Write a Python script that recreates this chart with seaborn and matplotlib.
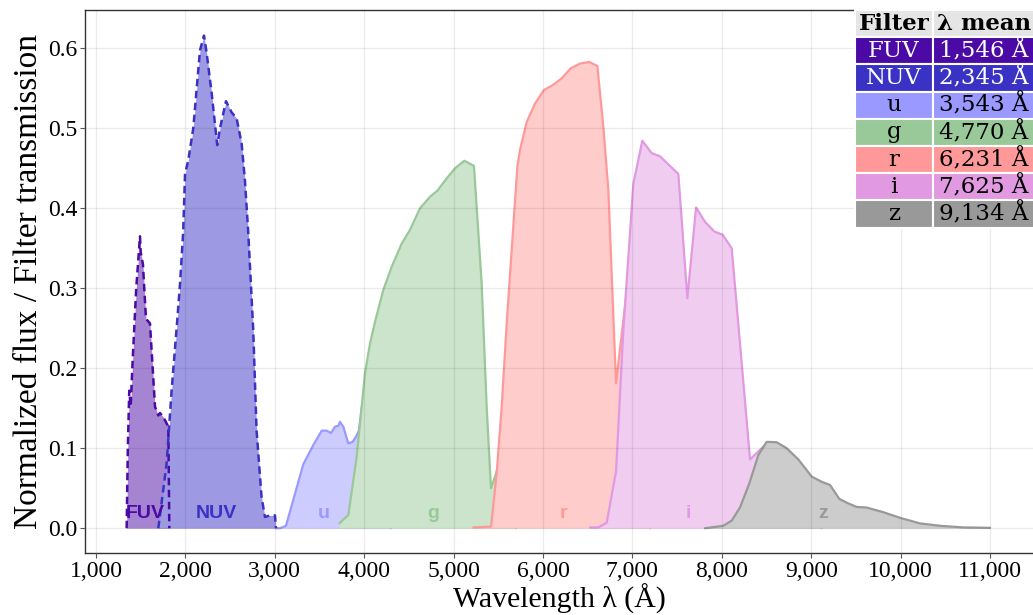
import matplotlib
matplotlib.use("Agg")
import matplotlib.pyplot as plt
import matplotlib.colors as mcolors
from matplotlib.ticker import FuncFormatter, MultipleLocator
import seaborn as sns

# --- filter transmission / normalized flux curves (wavelength in Å) ---
fuv_wave = [1343, 1356, 1372, 1388, 1410, 1450, 1492, 1500, 1525, 1559, 1604,
            1660, 1697, 1716, 1753, 1809, 1820]
fuv_flux = [0.0, 0.10, 0.172, 0.152, 0.21, 0.30, 0.365, 0.345, 0.33, 0.262, 0.256,
            0.152, 0.141, 0.144, 0.139, 0.127, 0.0]

nuv_wave = [1697, 1790, 1846, 1909, 1940, 1975, 1996, 2032, 2088, 2163, 2208, 2238,
            2294, 2356, 2387, 2454, 2517, 2573, 2629, 2666, 2703, 2759, 2796, 2852,
            2890, 2946, 3002, 3013]
nuv_flux = [0.0, 0.081, 0.1725, 0.26, 0.306, 0.37, 0.443, 0.46, 0.50, 0.5975, 0.616,
            0.594, 0.544, 0.479, 0.50, 0.534, 0.52, 0.5125, 0.481, 0.435, 0.37, 0.2475,
            0.1225, 0.039, 0.014, 0.016, 0.016, 0.0]

u_wave = [3013, 3058, 3125, 3319, 3431, 3525, 3581, 3629, 3674, 3711, 3729, 3766,
          3822, 3871, 3916, 3942, 3972, 4020, 4100, 4200, 4300]
u_flux = [0.0, 0.0, 0.003, 0.08, 0.104, 0.122, 0.122, 0.119, 0.127, 0.128, 0.133,
          0.127, 0.106, 0.108, 0.116, 0.1225, 0.15, 0.18, 0.14, 0.05, 0.0]

g_wave = [3722, 3823, 3916, 4009, 4065, 4121, 4214, 4308, 4420, 4512, 4624, 4736,
          4818, 4923, 5016, 5120, 5228, 5314, 5370, 5418, 5463, 5519, 5600, 5700]
g_flux = [0.006, 0.0166, 0.0895, 0.194, 0.231, 0.258, 0.298, 0.327, 0.356, 0.373,
          0.40, 0.4145, 0.422, 0.4375, 0.45, 0.4595, 0.453, 0.306, 0.152, 0.05,
          0.0645, 0.085, 0.04, 0.0]

r_wave = [5221, 5419, 5482, 5538, 5594, 5650, 5713, 5743, 5818, 5911, 6011, 6109,
          6209, 6310, 6414, 6518, 6608, 6675, 6731, 6817, 6930, 7000, 7100, 7200]
r_flux = [0.001, 0.002, 0.069, 0.152, 0.256, 0.348, 0.452, 0.473, 0.508, 0.531,
          0.548, 0.554, 0.5625, 0.575, 0.581, 0.583, 0.578, 0.502, 0.423, 0.181,
          0.29, 0.20, 0.05, 0.0]

i_wave = [6526, 6619, 6713, 6817, 6899, 7011, 7111, 7216, 7309, 7402, 7514, 7615,
          7712, 7813, 7916, 8010, 8111, 8316, 8502, 8614, 8726, 8856, 9006, 9118]
i_flux = [0.001, 0.001, 0.007, 0.071, 0.248, 0.431, 0.4845, 0.469, 0.465, 0.455,
          0.443, 0.2875, 0.401, 0.383, 0.371, 0.367, 0.35, 0.086, 0.106, 0.08, 0.05,
          0.025, 0.01, 0.0]

z_wave = [7812, 8017, 8111, 8204, 8308, 8409, 8502, 8614, 8726, 8856, 9006, 9118,
          9211, 9315, 9415, 9509, 9621, 9807, 9993, 10217, 10441, 10702, 11000]
z_flux = [0.0, 0.003, 0.0095, 0.026, 0.056, 0.0915, 0.108, 0.1075, 0.10, 0.086,
          0.0645, 0.058, 0.054, 0.0366, 0.031, 0.0266, 0.0258, 0.02, 0.013, 0.006,
          0.003, 0.001, 0.0005]

filters = ["FUV", "NUV", "u", "g", "r", "i", "z"]
mean_wavelength = [1546, 2345, 3543, 4770, 6231, 7625, 9134]

x_ticks = [1000, 2000, 3000, 4000, 5000, 6000, 7000, 8000, 9000, 10000, 11000]

# --- styling ---
line_colors = ["#4B0AA5", "#3A32C4", "#9999FF", "#99C899", "#FF9999", "#E199E1", "#999999"]
dashed = [True, True, False, False, False, False, False]
text_white = [True, True, False, False, False, False, False]

curves = [(fuv_wave, fuv_flux), (nuv_wave, nuv_flux), (u_wave, u_flux),
          (g_wave, g_flux), (r_wave, r_flux), (i_wave, i_flux), (z_wave, z_flux)]


def half_tint(color):
    r, g, b = mcolors.to_rgb(color)
    return (0.5 + 0.5 * r, 0.5 + 0.5 * g, 0.5 + 0.5 * b)


sns.set_style("white")
plt.rcParams["font.family"] = ["Liberation Serif", "DejaVu Serif"]
plt.rcParams["text.color"] = "black"
plt.rcParams["axes.labelcolor"] = "black"

fig = plt.figure(figsize=(10.33, 6.15), dpi=100)
ax = fig.add_axes([85 / 1033, 62 / 615, 948 / 1033, 543 / 615])

for k, (name, (wave, flux)) in enumerate(zip(filters, curves)):
    base = 1.0 + 0.1 * k
    ax.fill_between(wave, flux, 0, color=half_tint(line_colors[k]), lw=0, zorder=base)
    if dashed[k]:
        sns.lineplot(x=wave, y=flux, ax=ax, color=line_colors[k], lw=1.8,
                     linestyle=(0, (3.0, 1.8)), estimator=None, sort=False, zorder=2.2)
    else:
        sns.lineplot(x=wave, y=flux, ax=ax, color=line_colors[k], lw=1.6,
                     estimator=None, sort=False, zorder=base + 0.05)
    ax.text(mean_wavelength[k], 0.019, name, color=line_colors[k], ha="center",
            va="center", fontsize=14, fontweight="bold", family="Liberation Sans",
            zorder=4)

ax.set_xlim(877, 11481)
ax.set_ylim(-0.031, 0.648)
ax.set_xticks(x_ticks)
ax.xaxis.set_major_formatter(FuncFormatter(lambda v, p: f"{int(v):,}"))
ax.yaxis.set_major_locator(MultipleLocator(0.1))
ax.yaxis.set_major_formatter(FuncFormatter(lambda v, p: f"{v:.1f}"))

ax.grid(True, color="black", alpha=0.08, lw=0.9)
ax.set_axisbelow(False)

for side in ["left", "bottom", "top"]:
    ax.spines[side].set_color("#333333")
    ax.spines[side].set_linewidth(1.0)
    ax.spines[side].set_visible(True)
ax.spines["right"].set_visible(False)

ax.tick_params(axis="both", labelsize=17, length=3.5, width=0.8, color="#555555",
               labelcolor="black", pad=2, direction="out")
ax.tick_params(axis="x", bottom=True)
ax.tick_params(axis="y", left=True)

ax.set_xlabel("Wavelength λ (Å)", fontsize=21.5, va="bottom")
ax.xaxis.set_label_coords(0.5, -60.5 / 543)
ax.set_ylabel("Normalized flux / Filter transmission", fontsize=24, labelpad=3)

# --- summary table of mean wavelengths ---
cell_text = [[f, f"{m:,} Å"] for f, m in zip(filters, mean_wavelength)]
cell_colors = [[c, c] for c in line_colors]
tbl = ax.table(cellText=cell_text, colLabels=["Filter", "λ mean"],
               cellColours=cell_colors, colColours=["#E5E5E5", "#E5E5E5"],
               cellLoc="center", colWidths=[0.78, 1.02],
               bbox=[770 / 948, 325.5 / 543, 180 / 948, 217.5 / 543])
tbl.auto_set_font_size(False)
tbl.set_zorder(6)
for (row, col), cell in tbl.get_celld().items():
    cell.set_edgecolor("white")
    cell.set_linewidth(1.5)
    txt = cell.get_text()
    txt.set_fontsize(16.5)
    txt.set_family("DejaVu Serif")
    if row == 0:
        txt.set_fontweight("bold")
        txt.set_color("black")
    else:
        txt.set_color("white" if text_white[row - 1] else "black")

fig.savefig("out.png", dpi=100)
